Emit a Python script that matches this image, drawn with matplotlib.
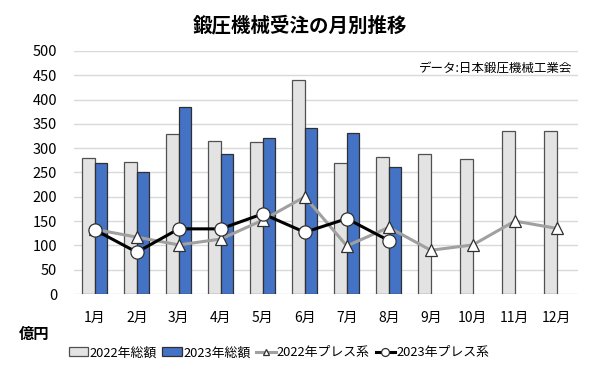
import numpy as np
import matplotlib
matplotlib.use("Agg")
import matplotlib.pyplot as plt

plt.rcParams['font.family'] = ['Noto Sans CJK JP', 'DejaVu Sans']

# data (億円)
months = ["1月", "2月", "3月", "4月", "5月", "6月", "7月", "8月", "9月", "10月", "11月", "12月"]
total_2022 = [280, 272, 329, 315, 313, 440, 269, 281, 287, 277, 336, 336]
total_2023 = [270, 252, 385, 289, 320, 341, 331, 261]
press_2022 = [133, 117, 101, 113, 152, 200, 99, 137, 90, 101, 150, 135]
press_2023 = [132, 86, 134, 134, 165, 127, 155, 110]

fig = plt.figure(figsize=(6, 3.92), dpi=100)
ax = fig.add_axes([0.123, 0.25, 0.84, 0.62])

x = np.arange(len(months))
w = 0.3
b1 = ax.bar(x - w / 2, total_2022, w, color="#E3E3E3", edgecolor="#505050", linewidth=0.9,
            label="2022年総額", zorder=2)
b2 = ax.bar(x[:len(total_2023)] + w / 2, total_2023, w, color="#4472C4", edgecolor="#303030",
            linewidth=0.9, label="2023年総額", zorder=2)
l1, = ax.plot(x, press_2022, color="#A0A0A0", lw=2.2, marker="^", ms=8, mfc="white",
              mec="#303030", mew=0.9, label="2022年プレス系", zorder=3)
l2, = ax.plot(x[:len(press_2023)], press_2023, color="black", lw=2.2, marker="o", ms=9.5,
              mfc="white", mec="#303030", mew=0.9, label="2023年プレス系", zorder=4)

ax.set_xlim(-0.5, 11.5)
ax.set_ylim(0, 500)
ax.set_yticks(range(0, 501, 50))
ax.set_xticks(x)
ax.set_xticklabels(months)
ax.grid(axis="y", color="#D9D9D9", lw=1, zorder=0)
for s in ax.spines.values():
    s.set_visible(False)
ax.tick_params(length=0, labelsize=10.5)
ax.tick_params(axis="x", pad=12, labelsize=10)
ax.tick_params(axis="y", pad=12)

fig.text(0.5, 0.936, "鍛圧機械受注の月別推移", ha="center", va="center",
         fontsize=14, fontweight="bold")
ax.text(0.99, 0.93, "データ:日本鍛圧機械工業会", transform=ax.transAxes,
        ha="right", va="center", fontsize=9)
fig.text(0.057, 0.148, "億円", ha="center", va="center", fontsize=11, fontweight="bold")

fig.legend(handles=[b1, b2, l1, l2], loc="center", bbox_to_anchor=(0.465, 0.1), ncol=4,
           frameon=False, fontsize=9.3, handlelength=1.5, handletextpad=0.1,
           columnspacing=0.45, markerscale=0.6)

fig.savefig("out.png", dpi=100)
